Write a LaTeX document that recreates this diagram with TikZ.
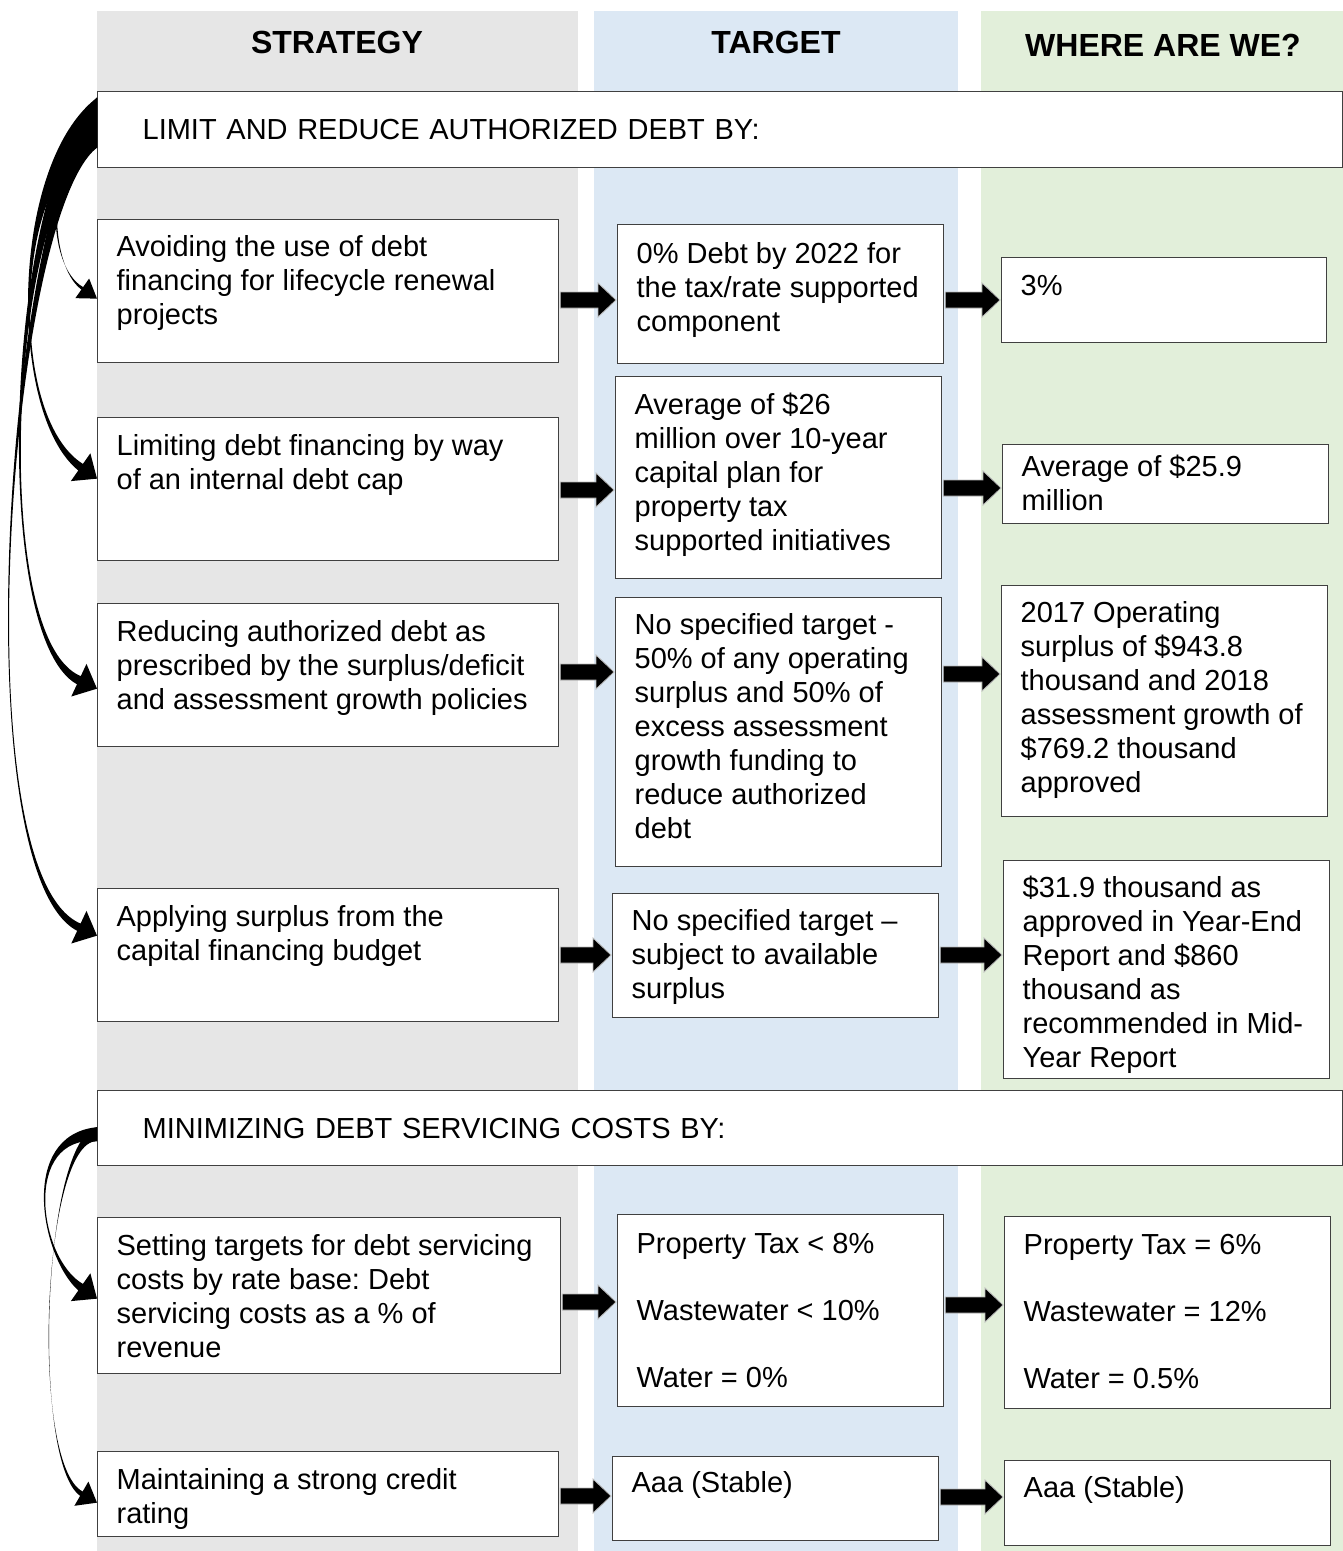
\documentclass[tikz,border=0pt]{standalone}
\usepackage{fontspec}
\setmainfont{Liberation Sans}
\usetikzlibrary{calc}
\definecolor{colgray}{HTML}{E6E6E6}
\definecolor{colblue}{HTML}{DCE8F4}
\definecolor{colgreen}{HTML}{E2EFDA}
\definecolor{boxline}{HTML}{404040}
\frenchspacing
\tikzset{
  sbox/.style={draw=boxline, fill=white, line width=1.3pt, inner sep=0pt},
  hbox/.style={draw=boxline, fill=white, line width=1.3pt, inner ysep=0pt, inner xsep=45pt,
    align=left, text width=1155pt, minimum width=1245pt, font=\fontsize{29}{34}\selectfont},
  colhead/.style={font=\fontsize{32}{38}\selectfont\bfseries, inner sep=0pt},
  barrow/.style={fill=black, draw=gray!55, line width=0.8pt},
}
% name, x, y, width, height, first baseline, text
\newcommand\bx[7]{%
  \node[sbox, anchor=north west] (#1) at (#2,#3)
   {\parbox[t][#5pt][t]{#4pt}{\raggedright\leftskip=19pt\rightskip=0pt plus 1fil\parindent=0pt
     \fontsize{29}{34}\selectfont\rule{0pt}{#6pt}#7}};%
}
% block arrow from node #1 to node #2 at image height #3
\newcommand\barr[3]{%
  \filldraw[barrow] let \p1=(#1.east), \p2=(#2.west) in
   (\x1+1pt,-#3pt+8pt) -- (\x2-19pt,-#3pt+8pt) -- (\x2-19pt,-#3pt+17pt) -- (\x2-1pt,-#3pt)
   -- (\x2-19pt,-#3pt-17pt) -- (\x2-19pt,-#3pt-8pt) -- (\x1+1pt,-#3pt-8pt) -- cycle;%
}
% curved tapered arrow: start, C1, C2, tip, angle, head length, head width, end half width, start half width
% \cgap = half gap between the two edges at the first control point
\def\cgap{1}
\newcommand\carrow[9]{%
  \coordinate (ct) at #4;
  \coordinate (cb) at ($(ct)+(#5+180:#6)$);
  \coordinate (cs) at #1;
  \fill[black] ($(cs)+(0,-#9)$) .. controls ($#2+(-\cgap,0)$) and ($#3+(1,-1)$) .. ($(cb)+(#5+90:#8)$)
    -- ($(cb)+(#5+90:#7/2)$) -- (ct) -- ($(cb)+(#5-90:#7/2)$) -- ($(cb)+(#5-90:#8)$)
    .. controls ($#3+(-1,1)$) and ($#2+(\cgap,0)$) .. ($(cs)+(0,#9)$) -- cycle;%
}
\begin{document}
\begin{tikzpicture}[x=1pt,y=-1pt]
\useasboundingbox (0,0) rectangle (1343,1551);
\fill[white] (0,0) rectangle (1343,1551);
% columns
\fill[colgray] (97,11) rectangle (578,1551);
\fill[colblue] (594,11) rectangle (958,1551);
\fill[colgreen] (981,11) rectangle (1343,1551);
% column headers
\node[colhead] (hs) at (337,42) {STRATEGY};
\node[colhead] (ht) at (776,42) {TARGET};
\node[colhead] (hw) at (1163,45) {WHERE ARE WE?};
% section headers
\node[hbox, anchor=north west, minimum height=76pt] (h1) at (97,91) {LIMIT AND REDUCE AUTHORIZED DEBT BY:};
\node[hbox, anchor=north west, minimum height=75pt] (h2) at (97,1090) {MINIMIZING DEBT SERVICING COSTS BY:};
% row 1
\bx{s1}{97}{219}{461}{143}{37}{Avoiding the use of debt\\financing for lifecycle renewal\\projects}
\bx{t1}{617}{224}{326}{139}{39}{0\% Debt by 2022 for\\the tax/rate supported\\component}
\bx{w1}{1001}{257}{325}{85}{38}{3\%}
% row 2
\bx{s2}{97}{417}{461}{143}{38}{Limiting debt financing by way\\of an internal debt cap}
\bx{t2}{615}{376}{326}{202}{38}{Average of \$26\\million over 10-year\\capital plan for\\property tax\\supported initiatives}
\bx{w2}{1002}{444}{326}{79}{32}{Average of \$25.9\\million}
% row 3
\bx{s3}{97}{603}{461}{143}{38}{Reducing authorized debt as\\prescribed by the surplus/deficit\\and assessment growth policies}
\bx{t3}{615}{597}{326}{269}{37}{No specified target -\\50\% of any operating\\surplus and 50\% of\\excess assessment\\growth funding to\\reduce authorized\\debt}
\bx{w3}{1001}{585}{326}{231}{37}{2017 Operating\\surplus of \$943.8\\thousand and 2018\\assessment growth of\\\$769.2 thousand\\approved}
% row 4
\bx{s4}{97}{888}{461}{133}{38}{Applying surplus from the\\capital financing budget}
\bx{t4}{612}{893}{326}{124}{37}{No specified target --\\subject to available\\surplus}
\bx{w4}{1003}{860}{326}{218}{37}{\$31.9 thousand as\\approved in Year-End\\Report and \$860\\thousand as\\recommended in Mid-\\Year Report}
% row 5
\bx{s5}{97}{1217}{463}{156}{38}{Setting targets for debt servicing\\costs by rate base: Debt\\servicing costs as a \% of\\revenue}
\bx{t5}{617}{1214}{326}{192}{39}{Property Tax < 8\%\\[33pt]Wastewater < 10\%\\[33pt]Water = 0\%}
\bx{w5}{1004}{1216}{326}{192}{38}{Property Tax = 6\%\\[33pt]Wastewater = 12\%\\[33pt]Water = 0.5\%}
% row 6
\bx{s6}{97}{1451}{461}{85}{38}{Maintaining a strong credit\\rating}
\bx{t6}{612}{1456}{326}{84}{36}{Aaa (Stable)}
\bx{w6}{1004}{1460}{326}{85}{37}{Aaa (Stable)}
% block arrows
\barr{s1}{t1}{300}\barr{t1}{w1}{300}
\barr{s2}{t2}{490}\barr{t2}{w2}{488}
\barr{s3}{t3}{672}\barr{t3}{w3}{674}
\barr{s4}{t4}{955}\barr{t4}{w4}{955}
\barr{s5}{t5}{1302}\barr{t5}{w5}{1305}
\barr{s6}{t6}{1496}\barr{t6}{w6}{1497}
% curved arrows
\coordinate (g1) at ($(h1.west)+(0,-7)$);
\coordinate (g2) at ($(h2.west)+(0,6)$);
\coordinate (tp1) at ($(s1.west)+(0,7.5)$);
\coordinate (tp2) at ($(s2.west)+(0,-10.5)$);
\coordinate (tp3) at ($(s3.west)+(0,13.5)$);
\coordinate (tp4) at ($(s4.west)+(0,-19.5)$);
\coordinate (tp5) at ($(s5.west)+(0,3)$);
\coordinate (tp6) at ($(s6.west)+(0,8.5)$);
\def\cgap{-1}
\carrow{(g1)}{(45,150)}{(46,265)}{(tp1)}{35}{18}{24}{1.5}{25}
\def\cgap{3}
\carrow{(g1)}{(12,165)}{(6.9,414.9)}{(tp2)}{35}{20}{34}{4}{25}
\carrow{(g1)}{(8,185)}{(-11.7,637.2)}{(tp3)}{25}{20}{36}{4.5}{25}
\def\cgap{2}
\carrow{(g1)}{(8,215)}{(-38.9,871.5)}{(tp4)}{25}{20}{36}{4}{25}
\def\cgap{2}
\carrow{(g2)}{(20,1135)}{(39.7,1257.8)}{(tp5)}{35}{20}{34}{4}{7}
\def\cgap{0}
\carrow{(g2)}{(42,1140)}{(30.5,1463)}{(tp6)}{30}{18}{28}{2.5}{7}
\end{tikzpicture}
\end{document}
